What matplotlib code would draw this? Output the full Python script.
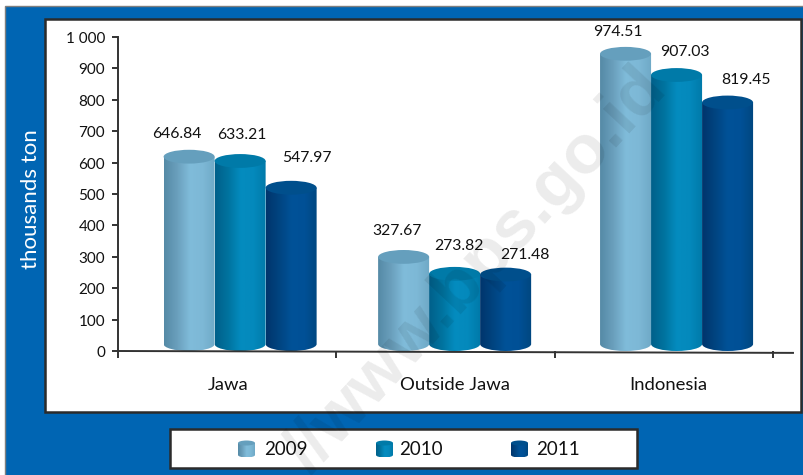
import numpy as np
import matplotlib
matplotlib.use("Agg")
import matplotlib.pyplot as plt
from matplotlib.colors import LinearSegmentedColormap
from matplotlib.patches import Ellipse, PathPatch, Rectangle
from matplotlib.path import Path

plt.rcParams['font.family'] = ['Lato', 'DejaVu Sans']

W, H = 804, 475

regions = ["Jawa", "Outside Jawa", "Indonesia"]
years = ["2009", "2010", "2011"]
values_2009 = [646.84, 327.67, 974.51]
values_2010 = [633.21, 273.82, 907.03]
values_2011 = [547.97, 271.48, 819.45]
y_ticks = [0, 100, 200, 300, 400, 500, 600, 700, 800, 900, 1000]
y_tick_labels = ["0", "100", "200", "300", "400", "500", "600", "700", "800", "900", "1 000"]

# left to right shading of each cylinder, plus the colour of its lid
shades = [
    ["#558aa6", "#6a9fbc", "#80bcda", "#7db8d6", "#6fa9c6"],
    ["#00608a", "#00739f", "#048cbf", "#0489bc", "#0079a8"],
    ["#00356c", "#004480", "#005298", "#005096", "#00477f"],
]
lids = ["#659fbd", "#007aa8", "#004f8c"]

# group centres on the category axis and label offsets (px) from each bar's top centre
group_x = [0.059, 1.041, 2.057]
bar_w = 0.2335
label_dx = [[-12, 2, 16], [-7, 4, 19], [-8, 8, 18]]
label_dy = [[14, 17, 21], [17, 19, 11], [13, 14, 14]]
cat_label_x = [228, 455, 668]


def cylinder(ax, x0, x1, base, top, cap, colors, lid, z=3):
    # body: gradient image clipped to the side outline, lid drawn on top
    xm = (x0 + x1) / 2
    k = 0.5523
    rx = (x1 - x0) / 2
    verts = [(x0, top), (x0, base),
             (x0, base - k * cap), (xm - k * rx, base - cap), (xm, base - cap),
             (xm + k * rx, base - cap), (x1, base - k * cap), (x1, base),
             (x1, top), (x0, top)]
    codes = [Path.MOVETO, Path.LINETO,
             Path.CURVE4, Path.CURVE4, Path.CURVE4,
             Path.CURVE4, Path.CURVE4, Path.CURVE4,
             Path.LINETO, Path.CLOSEPOLY]
    clip = PathPatch(Path(verts, codes), fc="none", ec="none", transform=ax.transData)
    ax.add_patch(clip)
    cmap = LinearSegmentedColormap.from_list("c", colors)
    im = ax.imshow(np.linspace(0, 1, 128).reshape(1, -1), cmap=cmap, aspect="auto",
                   extent=(x0, x1, base - cap, top), zorder=z)
    im.set_clip_path(clip)
    ax.add_patch(Ellipse((xm, top), x1 - x0, 2 * cap, fc=lid, ec="none", zorder=z))


fig = plt.figure(figsize=(W / 100, H / 100), dpi=100, facecolor="white")

# page furniture in pixel coordinates
bg = fig.add_axes([0, 0, 1, 1])
bg.set_xlim(0, W)
bg.set_ylim(0, H)
bg.axis("off")
bg.add_patch(Rectangle((5.5, -5), W, H - 0.5, fc="#0065b3", ec="#7f7f7f", lw=1))
bg.add_patch(Rectangle((45, H - 412), 756, 393, fc="white", ec="#2b2b2b", lw=1.8))
bg.add_patch(Rectangle((170.5, H - 467.5), 466.5, 39, fc="white", ec="#2b2b2b", lw=1.8))
bg.text(31, H - 199, "thousands ton", color="white", rotation=90, ha="center", va="center", fontsize=16)

# legend swatches
swatch_x = [238, 376, 511]
text_x = [264, 399, 536]
for i, year in enumerate(years):
    cylinder(bg, swatch_x[i], swatch_x[i] + 17, H - 455, H - 443, 2.5, shades[i], lids[i])
    bg.text(text_x[i], H - 449.5, year, ha="left", va="center", fontsize=13.5, color="#111111")
bg.set_xlim(0, W)
bg.set_ylim(0, H)

# chart area
ax = fig.add_axes([118 / W, (H - 351) / H, (793 - 118) / W, (351 - 37) / H])
ax.patch.set_alpha(0)

series = [values_2009, values_2010, values_2011]
cap = 22
inset = 6
for s, vals in enumerate(series):
    for g, v in enumerate(vals):
        x0 = group_x[g] + (s - 1.5) * bar_w
        x1 = x0 + bar_w
        top = v - inset - cap
        cylinder(ax, x0, x1, cap, top, cap, shades[s], lids[s], z=3 + s)
        ax.annotate(f"{v:.2f}", ((x0 + x1) / 2, v), xytext=(label_dx[g][s] * 0.72, label_dy[g][s] * 0.72),
                    textcoords="offset points", ha="center", va="center", fontsize=11.3, color="#111111",
                    zorder=10, annotation_clip=False)

ax.set_xlim(-0.5, 2.59)
ax.set_ylim(0, 1000)
ax.set_xticks([-0.5, 0.5, 1.5, 2.5])
ax.set_xticklabels([])
ax.set_yticks(y_ticks)
ax.set_yticklabels([])
# the scale numbers sit a touch below their ticks
for y, lab in zip(y_ticks, y_tick_labels):
    ax.annotate(lab, (0, y), xycoords=ax.get_yaxis_transform(), xytext=(-13 * 0.72, -2 * 0.72),
                textcoords="offset points", ha="right", va="center", fontsize=11, color="#111111",
                annotation_clip=False)
ax.tick_params(axis="y", direction="out", length=4, width=1.4, color="#333333")
ax.tick_params(axis="x", direction="out", length=5, width=1.4, color="#333333")
for side in ["top", "right", "bottom"]:
    ax.spines[side].set_visible(False)
ax.spines["left"].set_linewidth(1.4)
ax.spines["left"].set_color("#333333")

# baseline runs very slightly downhill
ax.plot([-0.5, 2.59], [0, -6], color="#333333", lw=1.4, clip_on=False, zorder=8)

for name, px in zip(regions, cat_label_x):
    bg.text(px, H - 385, name, ha="center", va="center", fontsize=13.3, color="#111111")

# site watermark across the whole page
fig.text(656 / W, (H - 78) / H, "//www.bps.go.id", rotation=47, rotation_mode="anchor",
         ha="right", va="center", fontsize=50, fontweight="bold", family="Liberation Sans",
         color="black", alpha=0.08, zorder=20)

fig.savefig("out.png", dpi=100)
